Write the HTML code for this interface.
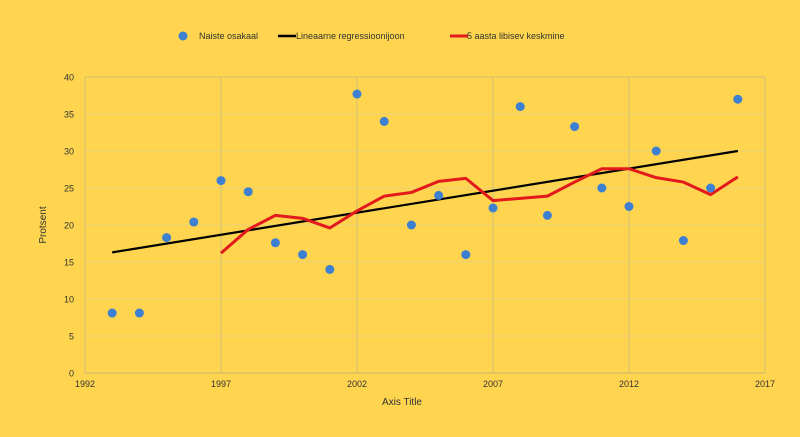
<!DOCTYPE html>
<html><head><meta charset="utf-8"><style>
html,body{margin:0;padding:0;background:#ffd54f;}
svg{display:block;font-family:"Liberation Sans",sans-serif;}
</style></head><body>
<svg id="c" width="800" height="437" viewBox="0 0 800 437" xmlns="http://www.w3.org/2000/svg">
<rect width="800" height="437" fill="#ffd54f"/>
<g id="g"></g>
<circle cx="183" cy="36" r="4.5" fill="#3d7fd1"/>
<text x="199" y="39" font-size="9" fill="#333">Naiste osakaal</text>
<line x1="278" y1="36" x2="296" y2="36" stroke="#000" stroke-width="2.5"/>
<text x="296" y="39" font-size="9" fill="#333">Lineaarne regressioonijoon</text>
<line x1="450" y1="36" x2="468" y2="36" stroke="#e31a1c" stroke-width="3"/>
<text x="467" y="39" font-size="9" fill="#333">5 aasta libisev keskmine</text>
<text x="402" y="405" font-size="10" fill="#333" text-anchor="middle">Axis Title</text>
<text x="46" y="225" font-size="10" fill="#333" text-anchor="middle" transform="rotate(-90 46 225)">Protsent</text>
</svg>
<script>
const g=document.getElementById('g');
const X=y=>85+(y-1992)*27.2, Y=v=>373-v*7.4;
let h='';
for(let v=0;v<=40;v+=5){h+=`<text x="74" y="${Y(v)+3.5}" font-size="9" fill="#333" text-anchor="end">${v}</text>`;
h+=`<line x1="85" y1="${Y(v)}" x2="765" y2="${Y(v)}" stroke="#e8cf78" stroke-width="1"/>`;}
h+=`<line x1="85" y1="${Y(40)}" x2="765" y2="${Y(40)}" stroke="#e0c66a" stroke-width="1.5"/>`;
for(let y=1992;y<=2017;y+=5){h+=`<line x1="${X(y)}" y1="${Y(40)}" x2="${X(y)}" y2="373" stroke="#e0c66a" stroke-width="1.5"/>`;
h+=`<text x="${X(y)}" y="387" font-size="9" fill="#333" text-anchor="middle">${y}</text>`;}
h+=`<line x1="85" y1="373" x2="765" y2="373" stroke="#d9bf66" stroke-width="1.5"/>`;
h+=`<line x1="${X(1993)}" y1="${Y(16.3)}" x2="${X(2016)}" y2="${Y(30)}" stroke="#000" stroke-width="2.2"/>`;
const ma=[16.2,19.4,21.3,20.9,19.6,21.9,23.9,24.4,25.9,26.3,23.3,23.6,23.9,25.8,27.6,27.6,26.4,25.8,24.1,26.5];
h+=`<polyline fill="none" stroke="#e31a1c" stroke-width="3" stroke-linejoin="round" points="${ma.map((v,i)=>X(1997+i)+','+Y(v)).join(' ')}"/>`;
const d=[8.1,8.1,18.3,20.4,26,24.5,17.6,16,14,37.7,34,20,24,16,22.3,36,21.3,33.3,25,22.5,30,17.9,25,37];
d.forEach((v,i)=>{h+=`<circle cx="${X(1993+i)}" cy="${Y(v)}" r="4.5" fill="#3d7fd1"/>`;});
g.innerHTML=h;
</script>
</body></html>
